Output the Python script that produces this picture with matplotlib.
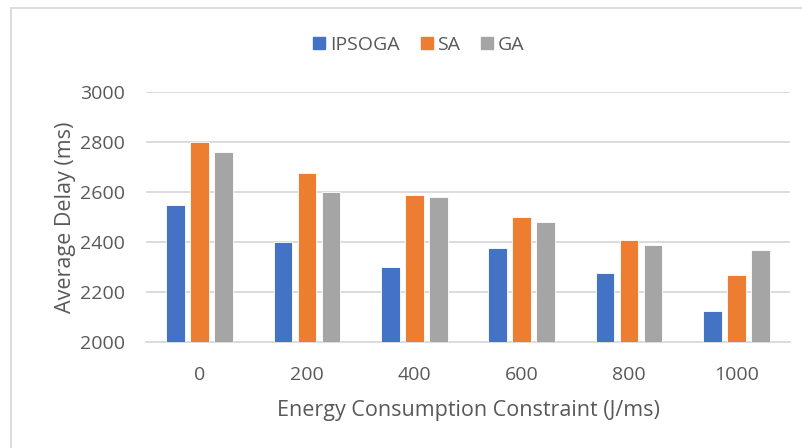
import matplotlib
matplotlib.use("Agg")
import matplotlib.pyplot as plt
import numpy as np
from matplotlib.lines import Line2D

plt.rcParams['font.family'] = ['Open Sans', 'DejaVu Sans']

categories = ["0", "200", "400", "600", "800", "1000"]
series_names = ["IPSOGA", "SA", "GA"]
ipsoga = [2550, 2400, 2300, 2375, 2275, 2125]
sa = [2800, 2675, 2590, 2500, 2410, 2270]
ga = [2760, 2600, 2580, 2480, 2390, 2370]
y_ticks = [2000, 2200, 2400, 2600, 2800, 3000]

colors = ["#4472C4", "#ED7D31", "#A5A5A5"]
text_color = "#595959"
grid_color = "#D9D9D9"

fig = plt.figure(figsize=(8.02, 4.48), dpi=100)
ax = fig.add_axes([0.1820, 0.2366, 0.8030, 0.558])

x = np.arange(len(categories))
bar_w = 0.175
pitch = 0.224
for i, (vals, c, name) in enumerate(zip([ipsoga, sa, ga], colors, series_names)):
    ax.bar(x + (i - 1) * pitch, vals, width=bar_w, color=c, label=name,
           edgecolor="white", linewidth=0.6, zorder=3)

ax.set_xlim(-0.5, len(categories) - 0.5)
ax.set_ylim(2000, 3000)
ax.set_yticks(y_ticks)
ax.set_xticks(x)
ax.set_xticklabels(categories)
ax.yaxis.grid(True, color=grid_color, linewidth=1.3, zorder=0)
ax.tick_params(axis="both", length=0, labelsize=14, colors=text_color)
ax.tick_params(axis="x", pad=17)
ax.tick_params(axis="y", pad=15)
for s in ["top", "right", "left"]:
    ax.spines[s].set_visible(False)
ax.spines["bottom"].set_color(grid_color)
ax.spines["bottom"].set_linewidth(1.3)

ax.set_xlabel("Energy Consumption Constraint (J/ms)", fontsize=15.5, color=text_color, labelpad=12)
ax.set_ylabel("Average Delay (ms)", fontsize=15.5, color=text_color, labelpad=3)

handles = [Line2D([], [], marker="s", linestyle="none", markersize=8,
                  markerfacecolor=c, markeredgecolor=c) for c in colors]
fig.legend(handles, series_names, loc="center", bbox_to_anchor=(0.52, 0.9),
           ncol=3, frameon=False, fontsize=14, labelcolor=text_color,
           handletextpad=0.05, columnspacing=0.9, handlelength=1.0)

# chart area outline
fig.add_artist(Line2D([11 / 802, 1.0], [1 - 8 / 448, 1 - 8 / 448],
                      transform=fig.transFigure, color=grid_color, linewidth=1.3))
fig.add_artist(Line2D([11 / 802, 11 / 802], [1 - 8 / 448, 0.0],
                      transform=fig.transFigure, color=grid_color, linewidth=1.3))

fig.savefig("out.png", dpi=100, facecolor="white")
